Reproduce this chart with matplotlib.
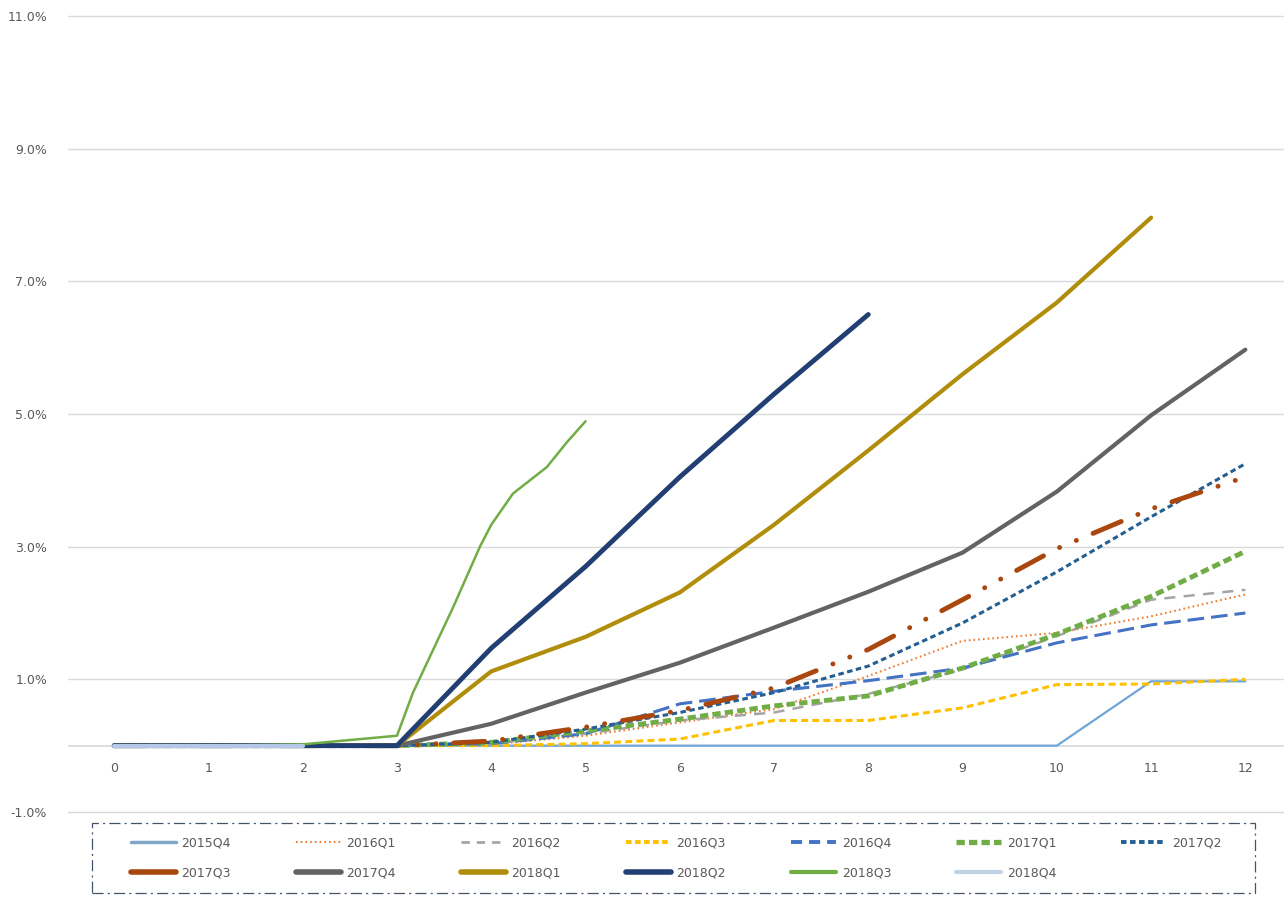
import matplotlib
matplotlib.use("Agg")
import matplotlib.pyplot as plt
from matplotlib.lines import Line2D
from matplotlib.patches import Rectangle

plt.rcParams['font.family'] = ['DejaVu Sans']
plt.rcParams['lines.scale_dashes'] = False

# ---------------- data (values in %) ----------------
x_ticks = list(range(13))
y_ticks = [-1, 1, 3, 5, 7, 9, 11]

s_2015Q4 = [0, 0, 0, 0, 0, 0, 0, 0, 0, 0, 0, 0.97, 0.97]
s_2016Q1 = [0, 0, 0, 0, 0.02, 0.15, 0.35, 0.55, 1.05, 1.58, 1.70, 1.95, 2.28]
s_2016Q2 = [0, 0, 0, 0, 0.03, 0.18, 0.38, 0.50, 0.78, 1.15, 1.65, 2.20, 2.35]
s_2016Q3 = [0, 0, 0, 0, 0.00, 0.03, 0.10, 0.38, 0.38, 0.57, 0.92, 0.93, 1.00]
s_2016Q4 = [0, 0, 0, 0, 0.03, 0.18, 0.63, 0.82, 0.98, 1.17, 1.55, 1.82, 2.00]
s_2017Q1 = [0, 0, 0, 0, 0.05, 0.22, 0.40, 0.60, 0.75, 1.17, 1.68, 2.25, 2.93]
s_2017Q2 = [0, 0, 0, 0, 0.05, 0.25, 0.50, 0.80, 1.20, 1.85, 2.62, 3.45, 4.25]
s_2017Q3 = [0, 0, 0, 0, 0.07, 0.28, 0.53, 0.87, 1.45, 2.20, 2.97, 3.57, 4.05]
s_2017Q4 = [0, 0, 0, 0, 0.33, 0.80, 1.25, 1.78, 2.32, 2.91, 3.83, 4.98, 5.97]
s_2018Q1 = [0, 0, 0, 0, 1.12, 1.64, 2.31, 3.33, 4.45, 5.60, 6.68, 7.96]
s_2018Q2 = [0, 0, 0, 0, 1.47, 2.70, 4.05, 5.30, 6.50]
s_2018Q3_x = [0, 1, 2, 3, 3.17, 3.6, 3.88, 4.0, 4.23, 4.59, 4.8, 5.0]
s_2018Q3 = [0, 0, 0.02, 0.15, 0.80, 2.10, 3.00, 3.33, 3.80, 4.20, 4.57, 4.89]
s_2018Q4 = [0, 0, 0]

series = [
    ("2015Q4", None, s_2015Q4),
    ("2016Q1", None, s_2016Q1),
    ("2016Q2", None, s_2016Q2),
    ("2016Q3", None, s_2016Q3),
    ("2016Q4", None, s_2016Q4),
    ("2017Q1", None, s_2017Q1),
    ("2017Q2", None, s_2017Q2),
    ("2017Q3", None, s_2017Q3),
    ("2017Q4", None, s_2017Q4),
    ("2018Q1", None, s_2018Q1),
    ("2018Q2", None, s_2018Q2),
    ("2018Q3", s_2018Q3_x, s_2018Q3),
    ("2018Q4", None, s_2018Q4),
]

styles = {
    "2015Q4": dict(color="#6FA6D8", lw=1.6, ls="-"),
    "2016Q1": dict(color="#ED7D31", lw=1.5, ls=(0, (1.2, 2.2))),
    "2016Q2": dict(color="#A5A5A5", lw=1.8, ls=(0, (8, 6))),
    "2016Q3": dict(color="#FFC000", lw=2.2, ls=(0, (5, 3))),
    "2016Q4": dict(color="#4472C4", lw=2.2, ls=(0, (12, 5))),
    "2017Q1": dict(color="#70AD47", lw=3.5, ls=(0, (6, 3))),
    "2017Q2": dict(color="#255E91", lw=2.2, ls=(0, (4, 2.5))),
    "2017Q3": dict(color="#A9470E", lw=3.5, ls=(0, (22, 13, 0.1, 13, 0.1, 13))),
    "2017Q4": dict(color="#636363", lw=3.0, ls="-"),
    "2018Q1": dict(color="#B08E0B", lw=3.0, ls="-"),
    "2018Q2": dict(color="#213F72", lw=3.5, ls="-"),
    "2018Q3": dict(color="#70AD47", lw=1.8, ls="-"),
    "2018Q4": dict(color="#B4C7E7", lw=3.0, ls="-"),
}

W, H = 1284, 905
fig = plt.figure(figsize=(W / 100, H / 100), dpi=100)
px_per_unit = (812 - 16) / 12.0
top_px = 16 - 0.05 * px_per_unit
bot_px = 812 + 0.05 * px_per_unit
ax = fig.add_axes([68 / W, (H - bot_px) / H, 1 - 68 / W, (bot_px - top_px) / H])

ax.set_xlim(-0.49, 12.41)
ax.set_ylim(-1.05, 11.05)

for yv in y_ticks:
    ax.axhline(yv, color="#D9D9D9", lw=1.0, zorder=0)
ax.axhline(0, color="#D9D9D9", lw=1.2, zorder=0)

for name, xs, ys in series:
    st = styles[name]
    if xs is None:
        xs = x_ticks[:len(ys)]
    capstyle = "round" if name == "2017Q3" else "butt"
    ax.plot(xs, ys, color=st["color"], lw=st["lw"], linestyle=st["ls"],
            solid_capstyle="round", dash_capstyle=capstyle, label=name)

ax.set_yticks(y_ticks)
ax.set_yticklabels([f"{v:.1f}%" for v in y_ticks], color="#595959", fontsize=9)
ax.tick_params(axis="y", length=0, pad=15)
ax.set_xticks([])
for xv in x_ticks:
    ax.text(xv, -0.35, str(xv), ha="center", va="center", color="#595959", fontsize=9)

for sp in ax.spines.values():
    sp.set_visible(False)

# legend
legend_style = {
    "2015Q4": dict(color="#7FA7C9", lw=2.5, ls="-"),
    "2016Q1": dict(color="#ED7D31", lw=1.5, ls=(0, (1.2, 2.2))),
    "2016Q2": dict(color="#A5A5A5", lw=2.0, ls=(0, (6, 5))),
    "2016Q3": dict(color="#FFC000", lw=2.8, ls=(0, (4, 2.5))),
    "2016Q4": dict(color="#4472C4", lw=2.8, ls=(0, (8, 5))),
    "2017Q1": dict(color="#70AD47", lw=3.8, ls=(0, (6, 3))),
    "2017Q2": dict(color="#255E91", lw=2.8, ls=(0, (4, 2.5))),
    "2017Q3": dict(color="#A9470E", lw=4.0, ls="-"),
    "2017Q4": dict(color="#636363", lw=4.0, ls="-"),
    "2018Q1": dict(color="#B08E0B", lw=4.0, ls="-"),
    "2018Q2": dict(color="#213F72", lw=4.0, ls="-"),
    "2018Q3": dict(color="#70AD47", lw=3.0, ls="-"),
    "2018Q4": dict(color="#C3D3E6", lw=3.0, ls="-"),
}
names = [s[0] for s in series]
row1 = names[:7]
row2 = names[7:]
order = []
for i in range(7):
    order.append(row1[i])
    if i < len(row2):
        order.append(row2[i])
leg_handles = [Line2D([], [], color=legend_style[n]["color"], lw=legend_style[n]["lw"],
                      linestyle=legend_style[n]["ls"], solid_capstyle="round") for n in order]
leg = fig.legend(leg_handles, order, ncol=7, loc="center",
                 bbox_to_anchor=(676 / W, (H - 858) / H),
                 frameon=False, fontsize=9,
                 handlelength=3.6, handletextpad=0.45, columnspacing=5.2,
                 labelspacing=1.35, borderpad=0.0)
for t in leg.get_texts():
    t.set_color("#595959")

frame = Rectangle((92 / W, (H - 893) / H), (1255 - 92) / W, (893 - 823) / H,
                  transform=fig.transFigure, fill=False, edgecolor="#44546A",
                  lw=0.9, linestyle=(0, (8, 3, 1.5, 3)))
fig.add_artist(frame)

fig.savefig("out.png", dpi=100)
